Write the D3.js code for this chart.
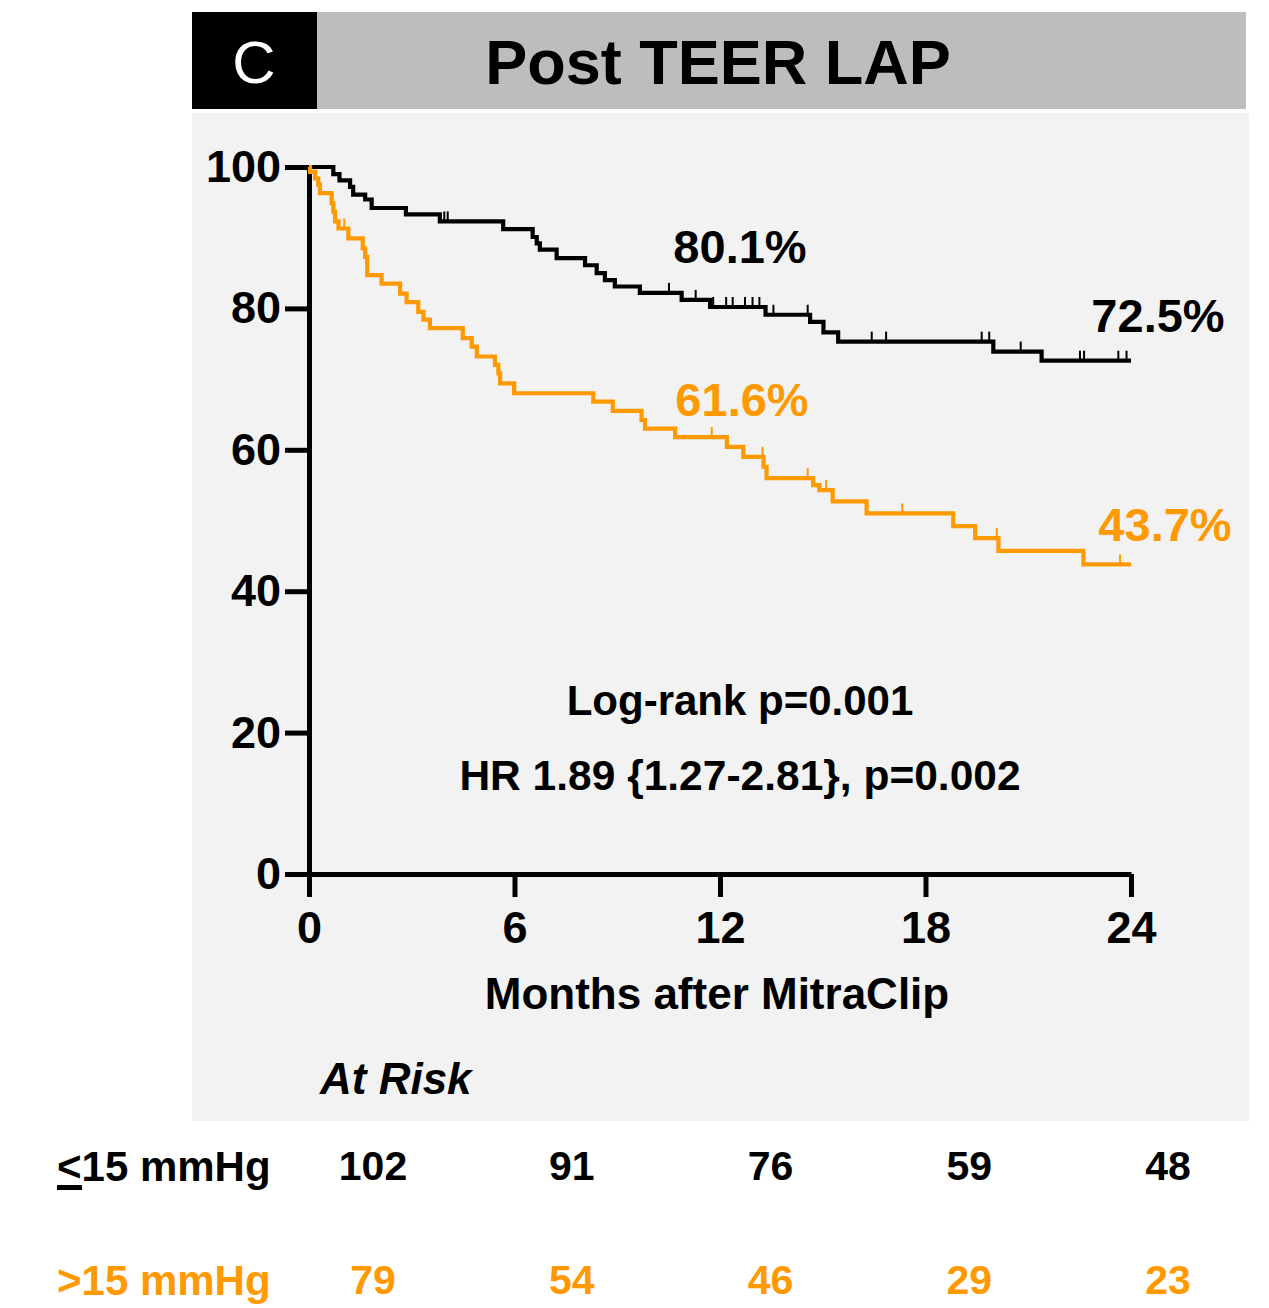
<!DOCTYPE html>
<html>
<head>
<meta charset="utf-8">
<script src="https://cdn.jsdelivr.net/npm/d3@7"></script>
<style>
  body { margin: 0; background: #fff; }
  text { font-family: "Liberation Sans", Arial, sans-serif; font-weight: bold; }
</style>
</head>
<body>
<div id="chart"></div>
<script>
// survival steps (months, % surviving)
let lowTimes = [0, 0.71, 0.89, 1.20, 1.29, 1.64, 1.83, 2.83, 3.82, 5.67, 6.53, 6.65, 6.74, 7.23, 8.06, 8.40, 8.64, 8.93, 9.66, 10.88, 11.71, 13.33, 14.63, 15.02, 15.45, 19.98, 21.39, 24];
let lowSurv = [100, 99.0, 98.1, 97.2, 96.1, 95.4, 94.2, 93.3, 92.3, 91.2, 90.1, 89.2, 88.3, 87.1, 86.1, 85.0, 84.0, 83.1, 82.2, 81.2, 80.2, 79.1, 78.1, 76.6, 75.3, 73.9, 72.6, 72.6];
let lowCensor = [3.95, 4.05, 10.51, 11.29, 11.80, 12.18, 12.37, 12.73, 12.95, 13.15, 13.56, 14.56, 16.43, 16.85, 19.64, 19.86, 20.78, 22.51, 22.63, 23.63, 23.87];

let highTimes = [0, 0.03, 0.18, 0.27, 0.32, 0.66, 0.71, 0.76, 0.86, 1.15, 1.57, 1.64, 1.70, 2.12, 2.66, 2.85, 3.19, 3.34, 3.53, 4.49, 4.75, 4.90, 5.43, 5.53, 5.58, 5.99, 8.30, 8.87, 9.71, 9.81, 10.69, 12.20, 12.68, 13.27, 13.36, 14.72, 14.90, 15.29, 16.28, 18.81, 19.45, 20.13, 22.61, 24];
let highSurv = [100, 99.3, 98.4, 97.5, 96.3, 94.9, 93.7, 92.3, 91.3, 89.9, 88.5, 87.3, 84.7, 83.5, 82.1, 80.9, 79.5, 78.4, 77.2, 75.8, 74.6, 73.2, 72.0, 70.8, 69.4, 68.0, 66.8, 65.5, 64.2, 63.0, 61.8, 60.4, 59.0, 57.6, 56.0, 55.0, 54.3, 52.7, 51.0, 49.2, 47.5, 45.7, 43.8, 43.8];
let highCensor = [1.03, 11.76, 13.24, 14.56, 15.10, 17.32, 20.08, 23.68];

let xTicks = [0, 6, 12, 18, 24];
let yTicks = [0, 20, 40, 60, 80, 100];
let riskTimes = [0, 6, 12, 18, 24];
let riskLow = [102, 91, 76, 59, 48];
let riskHigh = [79, 54, 46, 29, 23];

let black = "#000000", orange = "#ff9900";

let svg = d3.select("#chart").append("svg")
  .attr("width", 1269)
  .attr("height", 1308);

svg.append("rect").attr("width", 1269).attr("height", 1308).attr("fill", "#fff");

// header + panel
svg.append("rect").attr("x", 192).attr("y", 12).attr("width", 125).attr("height", 97).attr("fill", "#000");
svg.append("rect").attr("x", 317).attr("y", 12).attr("width", 929).attr("height", 97).attr("fill", "#bdbdbd");
svg.append("rect").attr("x", 192).attr("y", 113).attr("width", 1057).attr("height", 1008).attr("fill", "#f2f2f2");

svg.append("text")
  .attr("x", 254).attr("y", 62)
  .attr("text-anchor", "middle").attr("dominant-baseline", "central")
  .style("font-weight", "normal").style("font-size", "60px")
  .attr("fill", "#fff").text("C");

svg.append("text")
  .attr("x", 718).attr("y", 62)
  .attr("text-anchor", "middle").attr("dominant-baseline", "central")
  .style("font-size", "63px").text("Post TEER LAP");

let x = d3.scaleLinear().domain([0, 24]).range([309, 1131]);
let y = d3.scaleLinear().domain([0, 100]).range([874, 167]);

let xAxis = svg.append("g")
  .attr("transform", "translate(0,874)")
  .call(d3.axisBottom(x).tickValues(xTicks).tickSize(23).tickSizeOuter(0).tickPadding(14));
let yAxis = svg.append("g")
  .attr("transform", "translate(309,0)")
  .call(d3.axisLeft(y).tickValues(yTicks).tickSize(24).tickSizeOuter(0).tickPadding(4));

[xAxis, yAxis].forEach(function (g) {
  g.select(".domain").attr("stroke", "#000").attr("stroke-width", 5);
  g.selectAll(".tick line").attr("stroke", "#000").attr("stroke-width", 5);
  g.selectAll(".tick text")
    .attr("fill", "#000")
    .style("font-family", "'Liberation Sans', Arial, sans-serif")
    .style("font-weight", "bold")
    .style("font-size", "45px");
});

svg.append("text")
  .attr("x", 717).attr("y", 993)
  .attr("text-anchor", "middle").attr("dominant-baseline", "central")
  .style("font-size", "44px").text("Months after MitraClip");

// curves
let line = d3.line()
  .x(function (d) { return x(d[0]); })
  .y(function (d) { return y(d[1]); })
  .curve(d3.curveStepAfter);

function survAt(times, surv, t) {
  let i = d3.bisectRight(times, t) - 1;
  return surv[Math.max(i, 0)];
}

function drawCurve(times, surv, censor, color) {
  let pts = times.map(function (t, i) { return [t, surv[i]]; });
  svg.append("path")
    .datum(pts)
    .attr("d", line)
    .attr("fill", "none")
    .attr("stroke", color)
    .attr("stroke-width", 4.2);

  svg.selectAll(null)
    .data(censor)
    .enter().append("line")
    .attr("x1", function (d) { return x(d); })
    .attr("x2", function (d) { return x(d); })
    .attr("y1", function (d) { return y(survAt(times, surv, d)); })
    .attr("y2", function (d) { return y(survAt(times, surv, d)) - 10; })
    .attr("stroke", color)
    .attr("stroke-width", 2);
}

drawCurve(lowTimes, lowSurv, lowCensor, black);
drawCurve(highTimes, highSurv, highCensor, orange);

// annotations
let notes = [
  {t: "80.1%", x: 740, y: 246, c: black},
  {t: "72.5%", x: 1158, y: 315, c: black},
  {t: "61.6%", x: 742, y: 399, c: orange},
  {t: "43.7%", x: 1165, y: 524, c: orange}
];
svg.selectAll(null)
  .data(notes)
  .enter().append("text")
  .attr("x", function (d) { return d.x; })
  .attr("y", function (d) { return d.y; })
  .attr("text-anchor", "middle").attr("dominant-baseline", "central")
  .attr("fill", function (d) { return d.c; })
  .style("font-size", "47px")
  .text(function (d) { return d.t; });

svg.append("text")
  .attr("x", 740).attr("y", 700)
  .attr("text-anchor", "middle").attr("dominant-baseline", "central")
  .style("font-size", "42px").text("Log-rank p=0.001");
svg.append("text")
  .attr("x", 740).attr("y", 775)
  .attr("text-anchor", "middle").attr("dominant-baseline", "central")
  .style("font-size", "42.5px").text("HR 1.89 {1.27-2.81}, p=0.002");

// at risk table
svg.append("text")
  .attr("x", 320).attr("y", 1078)
  .attr("dominant-baseline", "central")
  .style("font-size", "44px").style("font-style", "italic").text("At Risk");

let rx = d3.scalePoint().domain(riskTimes).range([373, 1168]);

svg.append("text")
  .attr("x", 57).attr("y", 1166)
  .attr("dominant-baseline", "central")
  .style("font-size", "42px").attr("fill", black).text("<15 mmHg");
svg.append("rect").attr("x", 57).attr("y", 1185).attr("width", 25).attr("height", 5).attr("fill", black);

svg.append("text")
  .attr("x", 57).attr("y", 1280)
  .attr("dominant-baseline", "central")
  .style("font-size", "42px").attr("fill", orange).text(">15 mmHg");

svg.selectAll(null)
  .data(riskLow)
  .enter().append("text")
  .attr("x", function (d, i) { return rx(riskTimes[i]); })
  .attr("y", 1166)
  .attr("text-anchor", "middle").attr("dominant-baseline", "central")
  .style("font-size", "41px").attr("fill", black)
  .text(function (d) { return d; });

svg.selectAll(null)
  .data(riskHigh)
  .enter().append("text")
  .attr("x", function (d, i) { return rx(riskTimes[i]); })
  .attr("y", 1280)
  .attr("text-anchor", "middle").attr("dominant-baseline", "central")
  .style("font-size", "41px").attr("fill", orange)
  .text(function (d) { return d; });
</script>
</body>
</html>
